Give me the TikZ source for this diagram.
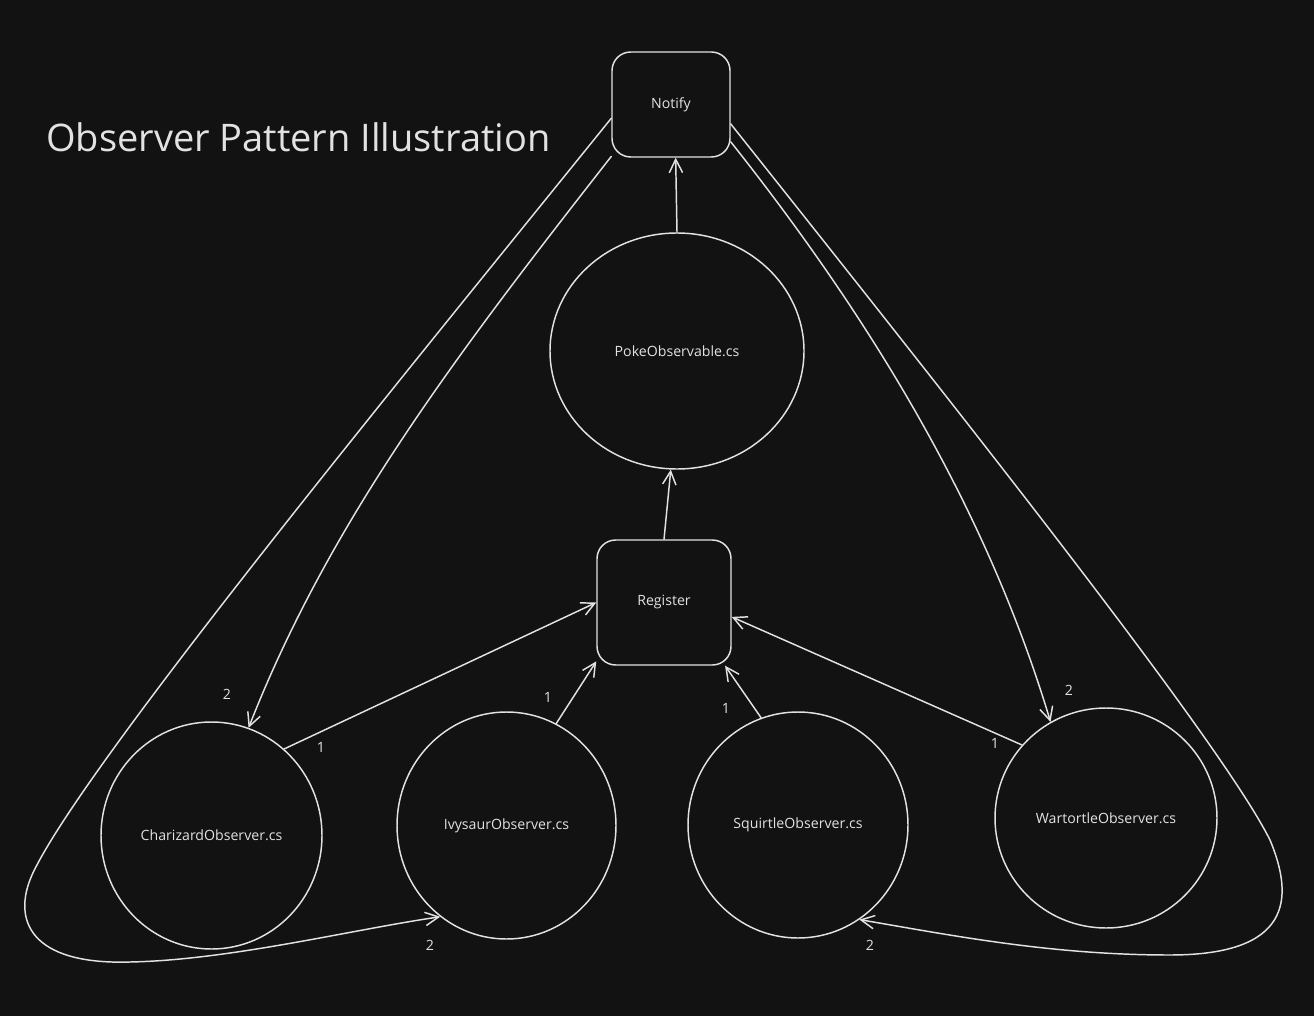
\documentclass[tikz,border=0pt]{standalone}
\usepackage{fontspec}
\setmainfont{Open Sans}
\usetikzlibrary{shapes.geometric,arrows.meta}
\definecolor{bg}{HTML}{121212}
\definecolor{ink}{HTML}{E2E2E2}
\begin{document}
\begin{tikzpicture}[x=0.75pt,y=-0.75pt,
  box/.style={draw=ink, line width=1.1pt, rounded corners=14pt, inner sep=0pt, text=ink, font=\fontsize{10.6}{12}\selectfont},
  obs/.style={ellipse, draw=ink, line width=1.1pt, inner sep=0pt, text=ink, font=\fontsize{10.6}{12}\selectfont},
  arr/.style={draw=ink, line width=1.1pt, line cap=round, line join=round, -{Straight Barb[length=10pt,width=10pt,line width=1.1pt]}},
  lbl/.style={text=ink, font=\fontsize{10.6}{12}\selectfont, inner sep=0pt}]
\fill[bg] (0,0) rectangle (1314,1016);
\useasboundingbox (0,0) rectangle (1314,1016);

\node[anchor=west, text=ink, inner sep=0pt, font=\fontsize{28.5}{32}\selectfont] (title) at (46,137) {Observer Pattern Illustration};

\node[box, minimum width=88.5pt, minimum height=78.75pt] (notify) at (671,104.5) {Notify};
\node[obs, minimum width=190.5pt, minimum height=177pt] (poke) at (677,351) {PokeObservable.cs};
\node[box, minimum width=100.5pt, minimum height=93.75pt] (reg) at (664,602.5) {Register};
\node[obs, minimum width=165.75pt, minimum height=170.25pt] (char) at (211.5,835.5) {CharizardObserver.cs};
\node[obs, minimum width=164.25pt, minimum height=170.25pt] (ivy) at (506.5,825.5) {IvysaurObserver.cs};
\node[obs, minimum width=165pt, minimum height=169.5pt] (squ) at (798,825) {SquirtleObserver.cs};
\node[obs, minimum width=166.5pt, minimum height=165pt] (war) at (1106,818) {WartortleObserver.cs};

\draw[arr] (poke.north) -- (notify.-85);
\draw[arr] (reg.north) -- (poke.-93);
\draw[arr] (char.50.6) -- (reg.west);
\draw[arr] (ivy.64) -- (reg.221);
\draw[arr] (squ.109.4) -- (reg.-46.5);
\draw[arr] (war.139) -- (reg.-12);
\draw[arr] (notify.221) .. controls (460,350) and (330,520) .. (char.71.6);
\draw[arr] (notify.-32) .. controls (880,330) and (990,520) .. (war.120);
\draw[arr] (notify.193) .. controls (400,380) and (80,770) .. (32,875)
  .. controls (12,920) and (30,965) .. (130,962)
  .. controls (230,960) and (350,930) .. (ivy.-126.5);
\draw[arr] (notify.-18) .. controls (950,400) and (1220,740) .. (1270,840)
  .. controls (1295,900) and (1290,955) .. (1170,955)
  .. controls (1050,955) and (950,935) .. (squ.-57.4);

\node[lbl] (n1) at (227,694) {2};
\node[lbl] (n2) at (321,747) {1};
\node[lbl] (n3) at (548,697) {1};
\node[lbl] (n4) at (726,708) {1};
\node[lbl] (n5) at (995,743) {1};
\node[lbl] (n6) at (1069,690) {2};
\node[lbl] (n7) at (430,945) {2};
\node[lbl] (n8) at (870,945) {2};
\end{tikzpicture}
\end{document}
